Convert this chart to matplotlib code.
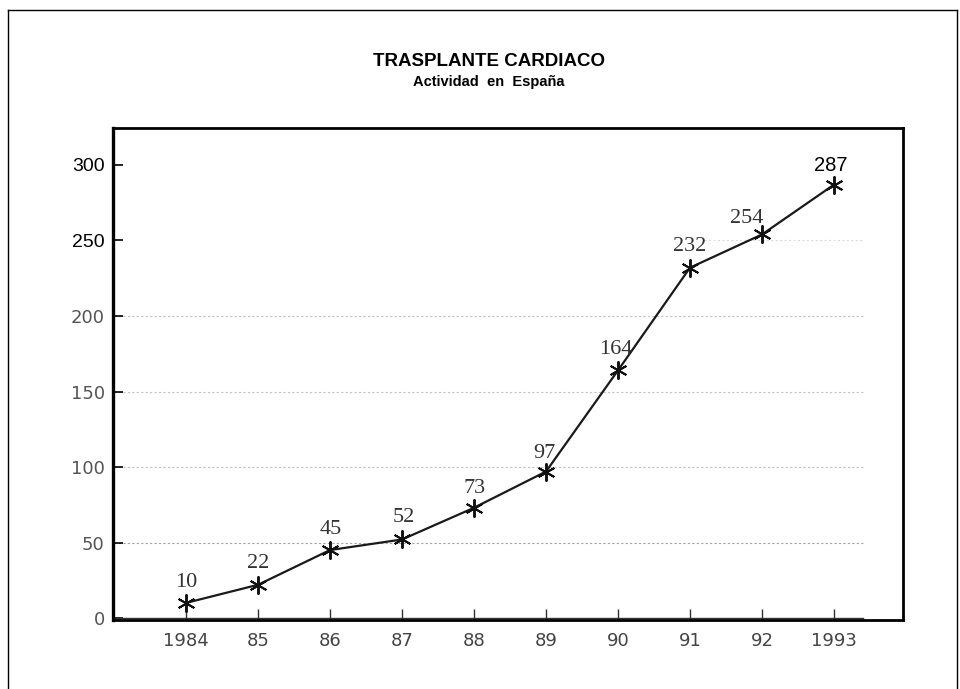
import matplotlib
matplotlib.use("Agg")
import matplotlib.pyplot as plt
from matplotlib.lines import Line2D

years = ["1984", "85", "86", "87", "88", "89", "90", "91", "92", "1993"]
values = [10, 22, 45, 52, 73, 97, 164, 232, 254, 287]
yticks = [0, 50, 100, 150, 200, 250, 300]
gridlevels = [50, 100, 150, 200]
# label offsets in pixels (dx, dy)
label_offsets = [(0, 20), (0, 21), (1, 21), (2, 22), (1, 19), (-2, 18), (-2, 21), (0, 21), (-15, 16), (-3, 19)]

W, H = 960, 689
fig = plt.figure(figsize=(9.6, 6.89), dpi=100)
fig.patch.set_facecolor("white")

def fx(x): return x / W
def fy(y): return 1 - y / H
for xs, ys in [((8, 8), (10, 689)), ((8, 957), (10, 10)), ((957, 957), (10, 689))]:
    fig.add_artist(Line2D([fx(x) for x in xs], [fy(y) for y in ys], color="black", lw=1.0))

ax = fig.add_axes([113 / W, 1 - 620 / H, (903 - 113) / W, (620 - 128) / H])
x = list(range(len(years)))
ax.set_xlim(-1.014, 9.958)
ax.set_ylim(-1.32, 324.5)

for g in gridlevels:
    ax.plot([-1.0, 9.4], [g, g], color="#999999", lw=0.8, ls=(0, (2, 2)), alpha=0.6 if g > 50 else 0.9, zorder=1)
ax.plot([7.2, 9.4], [250, 250], color="#bbbbbb", lw=0.8, ls=(0, (2, 2)), alpha=0.5, zorder=1)
ax.plot([-1.0, 9.4], [0, 0], color="#333333", lw=1.0, zorder=2)

ax.plot(x, values, color="#1a1a1a", lw=1.6, marker=(6, 2, 0), markersize=13,
        markeredgewidth=1.4, markeredgecolor="#111111", zorder=3)

px2pt = 72 / 100
for i, (xi, v) in enumerate(zip(x, values)):
    dx, dy = label_offsets[i]
    last = i == len(values) - 1
    fam = "Liberation Sans" if last else "Liberation Serif"
    col = "black" if last else "#333333"
    ax.annotate(str(v), (xi, v), xytext=(dx * px2pt, dy * px2pt), textcoords="offset points",
                ha="center", va="center", fontsize=16 if not last else 14.5, family=fam, color=col)

for side in ["left", "top", "right", "bottom"]:
    ax.spines[side].set_color("black")
ax.spines["left"].set_linewidth(2.4)
ax.spines["top"].set_linewidth(2.0)
ax.spines["right"].set_linewidth(2.0)
ax.spines["bottom"].set_linewidth(2.0)

ax.set_xticks(x)
ax.set_xticklabels(years, family="DejaVu Sans", fontsize=13, color="#444444")
ax.tick_params(axis="x", direction="in", length=8, width=1.0, color="#333333", pad=9)
ax.set_yticks(yticks)
ylabels = ax.set_yticklabels([str(t) for t in yticks], fontsize=14)
for t, lab in zip(yticks, ylabels):
    if t >= 250:
        lab.set_family("Liberation Sans")
        lab.set_color("black")
    else:
        lab.set_family("DejaVu Sans")
        lab.set_color("#555555")
        lab.set_fontsize(13)
ax.tick_params(axis="y", direction="in", length=7, width=1.2, color="black", pad=6)

fig.text(489 / W, fy(62), "TRASPLANTE CARDIACO", ha="center", va="center",
         fontsize=13.5, fontweight="bold", family=["Liberation Sans Narrow", "Liberation Sans"])
fig.text(489 / W, fy(82), "Actividad  en  España", ha="center", va="center",
         fontsize=10.5, fontweight="bold", family=["Liberation Sans Narrow", "Liberation Sans"])

fig.savefig("out.png", dpi=100)
